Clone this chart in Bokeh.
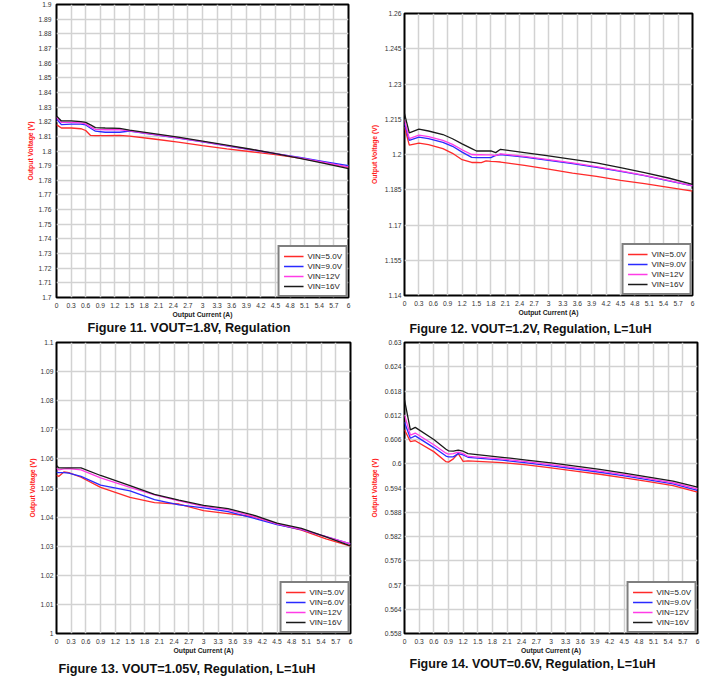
from bokeh.plotting import figure
from bokeh.layouts import column, row
from bokeh.models import FixedTicker, Title
from bokeh.embed import file_html
from bokeh.resources import INLINE

# output current axis, shared by all four panels
current_ticks = [0, 0.3, 0.6, 0.9, 1.2, 1.5, 1.8, 2.1, 2.4, 2.7, 3, 3.3, 3.6, 3.9, 4.2, 4.5, 4.8, 5.1, 5.4, 5.7, 6]
current_labels = ["0", "0.3", "0.6", "0.9", "1.2", "1.5", "1.8", "2.1", "2.4", "2.7", "3",
                  "3.3", "3.6", "3.9", "4.2", "4.5", "4.8", "5.1", "5.4", "5.7", "6"]

# Figure 11: VOUT=1.8V
f11_x = [0, 0.1, 0.3, 0.5, 0.6, 0.7, 0.8, 1.0, 1.3, 1.5, 2.0, 2.5, 3.0, 3.5, 4.0, 4.5, 5.0, 5.5, 6.0]
f11_vin5 = [1.8180, 1.8157, 1.8157, 1.8152, 1.8140, 1.8106, 1.8105, 1.8105, 1.8107, 1.8102, 1.8082,
            1.8060, 1.8037, 1.8015, 1.7995, 1.7975, 1.7952, 1.7922, 1.7888]
f11_vin9 = [1.8220, 1.8180, 1.8183, 1.8183, 1.8178, 1.8155, 1.8135, 1.8128, 1.8128, 1.8135, 1.8112,
            1.8088, 1.8062, 1.8035, 1.8008, 1.7982, 1.7956, 1.7928, 1.7900]
f11_vin12 = [1.8230, 1.8195, 1.8195, 1.8192, 1.8185, 1.8165, 1.8148, 1.8145, 1.8145, 1.8138, 1.8113,
             1.8090, 1.8064, 1.8037, 1.8010, 1.7982, 1.7953, 1.7922, 1.7890]
f11_vin16 = [1.8240, 1.8205, 1.8205, 1.8200, 1.8195, 1.8178, 1.8160, 1.8157, 1.8155, 1.8142, 1.8118,
             1.8094, 1.8068, 1.8040, 1.8012, 1.7982, 1.7950, 1.7916, 1.7880]
f11_ticks = [1.7, 1.71, 1.72, 1.73, 1.74, 1.75, 1.76, 1.77, 1.78, 1.79, 1.8,
             1.81, 1.82, 1.83, 1.84, 1.85, 1.86, 1.87, 1.88, 1.89, 1.9]

# Figure 12: VOUT=1.2V
f12_x = [0, 0.1, 0.3, 0.5, 0.8, 1.0, 1.2, 1.4, 1.5, 1.6, 1.7, 1.8, 1.9, 2.0,
         2.5, 3.0, 3.5, 4.0, 4.5, 5.0, 5.5, 6.0]
f12_vin5 = [1.2117, 1.2040, 1.2048, 1.2042, 1.2025, 1.2005, 1.1978, 1.1966, 1.1966, 1.1965, 1.1973,
            1.1971, 1.1970, 1.1968, 1.1954, 1.1938, 1.1921, 1.1907, 1.1890, 1.1876, 1.1860, 1.1844]
f12_vin9 = [1.2131, 1.2060, 1.2074, 1.2068, 1.2052, 1.2035, 1.2010, 1.1988, 1.1987, 1.1987, 1.1987,
            1.1987, 1.1996, 1.2000, 1.1989, 1.1975, 1.1961, 1.1945, 1.1928, 1.1910, 1.1888, 1.1867]
f12_vin12 = [1.2146, 1.2068, 1.2082, 1.2076, 1.2060, 1.2043, 1.2020, 1.2000, 1.1999, 1.1999, 1.1998,
             1.1998, 1.1995, 1.2003, 1.1992, 1.1978, 1.1964, 1.1948, 1.1930, 1.1911, 1.1890, 1.1866]
f12_vin16 = [1.2174, 1.2092, 1.2108, 1.2100, 1.2085, 1.2067, 1.2045, 1.2025, 1.2015, 1.2015, 1.2015,
             1.2015, 1.2008, 1.2022, 1.2008, 1.1994, 1.1979, 1.1964, 1.1944, 1.1923, 1.1900, 1.1873]
f12_ticks = [1.14, 1.155, 1.17, 1.185, 1.2, 1.215, 1.23, 1.245, 1.26]

# Figure 13: VOUT=1.05V
f13_x = [0, 0.05, 0.15, 0.25, 0.5, 0.9, 1.5, 2.0, 2.5, 3.0, 3.5, 4.0, 4.5, 5.0, 5.5, 6.0]
f13_vin5 = [1.0543, 1.0540, 1.0555, 1.0553, 1.0537, 1.0502, 1.0468, 1.0450, 1.0445, 1.0422,
            1.0412, 1.0402, 1.0376, 1.0355, 1.0325, 1.0300]
f13_vin6 = [1.0554, 1.0553, 1.0553, 1.0551, 1.0540, 1.0510, 1.0490, 1.0460, 1.0442, 1.0432,
            1.0419, 1.0397, 1.0374, 1.0357, 1.0333, 1.0308]
f13_vin12 = [1.0568, 1.0562, 1.0566, 1.0567, 1.0562, 1.0535, 1.0502, 1.0476, 1.0456, 1.0437,
             1.0425, 1.0403, 1.0377, 1.0358, 1.0333, 1.0308]
f13_vin16 = [1.0577, 1.0569, 1.0569, 1.0569, 1.0569, 1.0543, 1.0508, 1.0478, 1.0458, 1.0440,
             1.0429, 1.0408, 1.0379, 1.0361, 1.0332, 1.0301]
f13_ticks = [1.0, 1.01, 1.02, 1.03, 1.04, 1.05, 1.06, 1.07, 1.08, 1.09, 1.1]

# Figure 14: VOUT=0.6V
f14_x = [0, 0.12, 0.22, 0.6, 0.85, 0.9, 1.0, 1.1, 1.2, 1.3, 2.0, 2.5, 3.0, 3.5, 4.0, 4.5, 5.0, 5.5, 6.0]
f14_vin5 = [0.6084, 0.6055, 0.6057, 0.6030, 0.6005, 0.6004, 0.6012, 0.6025, 0.6006, 0.6007,
            0.6003, 0.5997, 0.5990, 0.5982, 0.5974, 0.5965, 0.5956, 0.5946, 0.5930]
f14_vin9 = [0.6103, 0.6063, 0.6069, 0.6040, 0.6019, 0.6017, 0.6017, 0.6025, 0.6022, 0.6016,
            0.6009, 0.6002, 0.5995, 0.5987, 0.5979, 0.5970, 0.5960, 0.5950, 0.5934]
f14_vin12 = [0.6121, 0.6071, 0.6076, 0.6047, 0.6026, 0.6024, 0.6025, 0.6029, 0.6025, 0.6018,
             0.6012, 0.6005, 0.5998, 0.5990, 0.5982, 0.5973, 0.5963, 0.5953, 0.5938]
f14_vin16 = [0.6158, 0.6084, 0.6090, 0.6060, 0.6036, 0.6032, 0.6031, 0.6034, 0.6031, 0.6025,
             0.6016, 0.6009, 0.6002, 0.5994, 0.5986, 0.5977, 0.5967, 0.5957, 0.5942]
f14_ticks = [0.558, 0.564, 0.57, 0.576, 0.582, 0.588, 0.594, 0.6, 0.606, 0.612, 0.618, 0.624, 0.63]

RED = "#ff2a2a"
BLUE = "#2a2aff"
PINK = "#ff3ce6"
BLACK = "#1a1a1a"
FONT = "Liberation Sans"


def make_panel(x, series, yticks, caption, w, h, borders, cap_offset, cap_size, cap_gap, cap_valign,
               y_gap, ylab_gap):
    left, right, top, bottom = borders
    p = figure(width=w, height=h, output_backend="svg", toolbar_location=None, title=None,
               x_range=(0, 6), y_range=(yticks[0], yticks[-1]),
               min_border_left=left, min_border_right=right,
               min_border_top=top, min_border_bottom=bottom)
    p.outline_line_color = "black"
    p.outline_line_width = 2
    p.background_fill_color = "white"

    for ys, col, lbl in series:
        p.line(x, ys, color=col, line_width=1.3, legend_label=lbl)

    p.xaxis.ticker = FixedTicker(ticks=current_ticks)
    p.xaxis.major_label_overrides = dict(zip(current_ticks, current_labels))
    p.yaxis.ticker = FixedTicker(ticks=yticks)
    p.yaxis.major_label_overrides = {t: f"{t:g}" for t in yticks}

    for ax in (p.xaxis[0], p.yaxis[0]):
        ax.axis_line_color = None
        ax.major_tick_line_color = None
        ax.minor_tick_line_color = None
        ax.major_tick_out = 0
        ax.major_label_text_font = FONT
        ax.major_label_text_font_size = "6.7px"
        ax.major_label_text_color = "#333333"
        ax.axis_label_text_font = FONT
        ax.axis_label_text_font_size = "6.8px"
        ax.axis_label_text_font_style = "bold"
    p.xaxis.major_label_standoff = 5
    p.xaxis.axis_label = "Output Current (A)"
    p.xaxis.axis_label_text_color = "#222222"
    p.xaxis.axis_label_standoff = 0
    p.yaxis.major_label_standoff = y_gap
    p.yaxis.axis_label = "Output Voltage (V)"
    p.yaxis.axis_label_text_color = "#ff2020"
    p.yaxis.axis_label_standoff = ylab_gap

    p.grid.grid_line_color = "#d2d2d2"
    p.grid.grid_line_width = 1.5

    lg = p.legend[0]
    lg.location = "bottom_right"
    lg.margin = 0
    lg.padding = 4
    lg.spacing = 0
    lg.label_height = 10
    lg.glyph_height = 10
    lg.glyph_width = 20
    lg.label_standoff = 4
    lg.label_text_font = FONT
    lg.label_text_font_size = "8px"
    lg.label_text_color = "#222222"
    lg.border_line_color = "black"
    lg.border_line_width = 2
    lg.background_fill_alpha = 1

    p.add_layout(Title(text=caption, align="left", offset=cap_offset, standoff=cap_gap,
                       vertical_align=cap_valign,
                       text_font=FONT, text_font_size=cap_size, text_font_style="bold",
                       text_color="#111111"), "below")
    return p


p11 = make_panel(f11_x, [(f11_vin5, RED, "VIN=5.0V"), (f11_vin9, BLUE, "VIN=9.0V"),
                         (f11_vin12, PINK, "VIN=12V"), (f11_vin16, BLACK, "VIN=16V")],
                 f11_ticks, "Figure 11. VOUT=1.8V, Regulation", 360, 337, (56, 12, 4, 40), 31, "12.7px",
                 0, "top", 5, 1)
p12 = make_panel(f12_x, [(f12_vin5, RED, "VIN=5.0V"), (f12_vin9, BLUE, "VIN=9.0V"),
                         (f12_vin12, PINK, "VIN=12V"), (f12_vin16, BLACK, "VIN=16V")],
                 f12_ticks, "Figure 12. VOUT=1.2V, Regulation, L=1uH", 362, 338, (44, 30, 13, 43), 5, "12.3px",
                 3, "bottom", 3, 4)
p13 = make_panel(f13_x, [(f13_vin5, RED, "VIN=5.0V"), (f13_vin6, BLUE, "VIN=6.0V"),
                         (f13_vin12, PINK, "VIN=12V"), (f13_vin16, BLACK, "VIN=16V")],
                 f13_ticks, "Figure 13. VOUT=1.05V, Regulation, L=1uH", 360, 342, (56, 10, 4, 47), 2, "12.7px",
                 7, "bottom", 3, 1)
p14 = make_panel(f14_x, [(f14_vin5, RED, "VIN=5.0V"), (f14_vin9, BLUE, "VIN=9.0V"),
                         (f14_vin12, PINK, "VIN=12V"), (f14_vin16, BLACK, "VIN=16V")],
                 f14_ticks, "Figure 14. VOUT=0.6V, Regulation, L=1uH", 362, 335, (44, 25, 4, 40), 5, "12.5px",
                 0, "top", 3, 4)

# each panel in its own column so the row does not line up their frames
page = column(row(column(p11), column(p12)), row(column(p13), column(p14)))
open("out.html", "w").write(file_html(page, INLINE))
